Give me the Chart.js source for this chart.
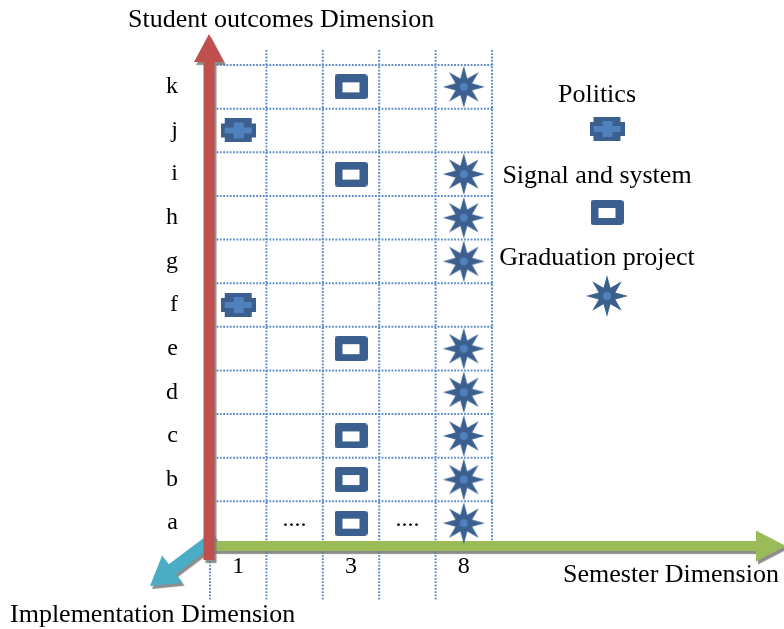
<!DOCTYPE html>
<html><head><meta charset="utf-8">
<script src="https://cdn.jsdelivr.net/npm/chart.js@4.4.1/dist/chart.umd.min.js"></script>
<style>html,body{margin:0;padding:0;background:#fff}#wrap{width:784px;height:629px;position:relative}</style>
</head><body><div id="wrap"><canvas id="c"></canvas></div>
<script>
// ---- data ----
const outcomes = ['a','b','c','d','e','f','g','h','i','j','k'];
const semesters = ['1','2','3','4-7','8'];
const gapColumns = ['2','4-7'];
const gapMark = '....';
const courseNames = ['Politics','Signal and system','Graduation project'];
const courseSemesters = ['1','3','8'];
const politicsOutcomes = ['j','f'];
const signalOutcomes = ['k','i','e','c','b','a'];
const graduationOutcomes = ['k','i','h','g','e','d','c','b','a'];
const axisTitles = ['Student outcomes Dimension','Semester Dimension','Implementation Dimension'];

// ---- marker images ----
const DARK = '#3B5F8E', LIGHT = '#4F81BD';
function makePolitics(){
  const c=document.createElement('canvas'); c.width=35; c.height=24; const g=c.getContext('2d');
  g.fillStyle=DARK; g.fillRect(4,0,27,24); g.fillRect(0,5,35,14);
  g.fillStyle=LIGHT; g.fillRect(4,9,27,6); g.fillRect(13,4,10,16);
  return c;
}
function makeSignal(){
  const c=document.createElement('canvas'); c.width=33; c.height=25; const g=c.getContext('2d');
  g.fillStyle=DARK; g.beginPath(); g.roundRect(0,0,33,25,3); g.fill();
  g.fillStyle='#fff'; g.fillRect(8,8,17,10);
  return c;
}
function makeStar(){
  const c=document.createElement('canvas'); c.width=44; c.height=44; const g=c.getContext('2d');
  const cx=22, cy=22, R=21, r=9;
  g.fillStyle=DARK; g.beginPath();
  for(let i=0;i<16;i++){
    const ang=-Math.PI/2 + i*Math.PI/8; const rr = i%2===0 ? R : r;
    const px=cx+rr*Math.cos(ang), py=cy+rr*Math.sin(ang);
    i===0 ? g.moveTo(px,py) : g.lineTo(px,py);
  }
  g.closePath(); g.fill();
  g.fillStyle=LIGHT; g.beginPath(); g.arc(cx,cy,4,0,Math.PI*2); g.fill();
  return c;
}
const markerImages = [makePolitics(), makeSignal(), makeStar()];
const courseOutcomes = [politicsOutcomes, signalOutcomes, graduationOutcomes];

const datasets = courseNames.map((name,i)=>({
  label: name,
  data: courseOutcomes[i].map(o=>({x: courseSemesters[i], y: o})),
  pointStyle: markerImages[i],
  pointRadius: 10,
  showLine: false
}));

const SERIF = '"Liberation Serif", "Times New Roman", serif';

function boundaries(scale){
  const n = scale.ticks.length;
  const p0 = scale.getPixelForTick(0), pn = scale.getPixelForTick(n-1);
  const step = (pn-p0)/(n-1);
  const out=[]; for(let k=0;k<=n;k++) out.push(p0 - step/2 + k*step);
  return out;
}
function arrow(ctx,x0,y0,x1,y1,sw,hl,hw,color){
  const dx=x1-x0, dy=y1-y0, L=Math.hypot(dx,dy);
  ctx.save();
  ctx.shadowColor='rgba(120,120,120,0.85)'; ctx.shadowOffsetX=2; ctx.shadowOffsetY=3; ctx.shadowBlur=1;
  ctx.translate(x0,y0); ctx.rotate(Math.atan2(dy,dx));
  ctx.beginPath(); ctx.moveTo(0,-sw); ctx.lineTo(L-hl,-sw); ctx.lineTo(L-hl,-hw); ctx.lineTo(L,0);
  ctx.lineTo(L-hl,hw); ctx.lineTo(L-hl,sw); ctx.lineTo(0,sw); ctx.closePath();
  ctx.fillStyle=color; ctx.fill(); ctx.restore();
}

const diagram = {
  id:'diagram',
  beforeDatasetsDraw(chart){
    const {ctx, chartArea:a, scales:{x,y}} = chart;
    ctx.save();
    ctx.strokeStyle='#5B8BC6'; ctx.lineWidth=2; ctx.setLineDash([1.8,1.5]);
    const xs=boundaries(x), ys=boundaries(y);
    ys.forEach(py=>{ ctx.beginPath(); ctx.moveTo(a.left,py); ctx.lineTo(a.right+2,py); ctx.stroke(); });
    xs.forEach((px,i)=>{ ctx.beginPath(); ctx.moveTo(px,a.top-15); ctx.lineTo(px, i===xs.length-1 ? a.bottom : a.bottom+55); ctx.stroke(); });
    ctx.restore();
    // arrows
    arrow(ctx, a.left+5, a.bottom-8, a.left-60, a.bottom+41, 6, 28, 17, '#4BACC6');
    arrow(ctx, a.left+2, a.bottom+1, 786, a.bottom+1, 5, 30, 15.5, '#9BBB59');
    arrow(ctx, a.left-1, a.bottom+15, a.left-1, 34, 5.5, 28, 15, '#C0504D');
    // gap marks
    ctx.save(); ctx.fillStyle='#000'; ctx.font='24px '+SERIF; ctx.textAlign='center'; ctx.textBaseline='alphabetic';
    gapColumns.forEach(g=>{ ctx.fillText(gapMark, x.getPixelForValue(semesters.indexOf(g)), y.getPixelForValue(0)+3); });
    ctx.restore();
  },
  afterDraw(chart){
    const {ctx, chartArea:a} = chart;
    ctx.save(); ctx.fillStyle='#000'; ctx.font='26px '+SERIF; ctx.textBaseline='middle'; ctx.textAlign='left';
    ctx.fillText(axisTitles[0], 128, 20);
    ctx.fillText(axisTitles[1], 563, 575);
    ctx.fillText(axisTitles[2], 10, 615);
    ctx.textAlign='center';
    const cx = a.right + 105;
    chart.data.datasets.forEach((ds,i)=>{
      const ty = a.top + 30 + i*81.5;
      ctx.fillText(ds.label, cx, ty);
      const img = ds.pointStyle;
      ctx.drawImage(img, cx+10-img.width/2, ty+34+i*2-img.height/2);
    });
    ctx.restore();
  }
};

new Chart(document.getElementById('c'), {
  type:'scatter',
  data:{ datasets },
  options:{
    responsive:true, maintainAspectRatio:false, animation:false, events:[],
    layout:{ padding:{ left:150, top:65, right:292, bottom:44 } },
    plugins:{ legend:{display:false}, tooltip:{enabled:false} },
    scales:{
      x:{ type:'category', labels:semesters, offset:true,
          grid:{display:false, drawTicks:false}, border:{display:false},
          afterFit(s){ s.height=40; },
          ticks:{ padding:7, color:'#000', font:{family:SERIF, size:24},
                  callback(v){ const l=semesters[v]; return courseSemesters.includes(l)?l:''; } } },
      y:{ type:'category', labels:outcomes, offset:true, reverse:true,
          grid:{display:false, drawTicks:false}, border:{display:false},
          afterFit(s){ s.width=60; },
          ticks:{ padding:32, color:'#000', font:{family:SERIF, size:24} } }
    }
  },
  plugins:[diagram]
});
</script></body></html>
